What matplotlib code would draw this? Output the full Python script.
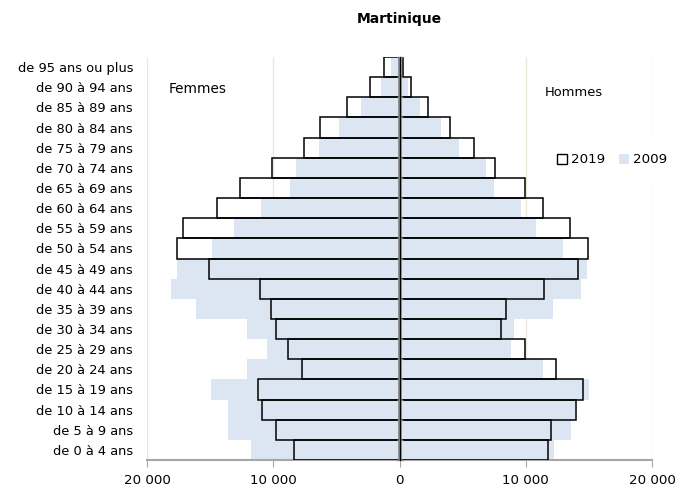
import matplotlib.pyplot as plt
import numpy as np
from matplotlib.ticker import FuncFormatter
from matplotlib.patches import Patch

ages = ["de 0 à 4 ans", "de 5 à 9 ans", "de 10 à 14 ans", "de 15 à 19 ans",
        "de 20 à 24 ans", "de 25 à 29 ans", "de 30 à 34 ans", "de 35 à 39 ans",
        "de 40 à 44 ans", "de 45 à 49 ans", "de 50 à 54 ans", "de 55 à 59 ans",
        "de 60 à 64 ans", "de 65 à 69 ans", "de 70 à 74 ans", "de 75 à 79 ans",
        "de 80 à 84 ans", "de 85 à 89 ans", "de 90 à 94 ans", "de 95 ans ou plus"]

femmes_2019 = [8350, 9800, 10930, 11220, 7760, 8820, 9800, 10170, 11040, 15080,
               17660, 17130, 14470, 12670, 10060, 7560, 6310, 4120, 2375, 1220]
femmes_2009 = [11780, 13570, 13570, 14940, 12040, 10510, 12040, 16110, 18110, 17600,
               14870, 13100, 10985, 8690, 8160, 6370, 4780, 3010, 1480, 690]
hommes_2019 = [11770, 11980, 13990, 14540, 12430, 9950, 8020, 8420, 11480, 14100,
               14940, 13490, 11370, 9950, 7550, 5910, 4010, 2240, 895, 300]
hommes_2009 = [12270, 13620, 13900, 14990, 11400, 8815, 9030, 12190, 14410, 14890,
               12990, 10850, 9610, 7490, 6835, 4720, 3270, 1630, 680, 200]

bleu = "#dce6f2"
gris = "#808080"

fig = plt.figure(figsize=(6.86, 4.88), dpi=100)
ax = fig.add_axes([147 / 686, 1 - 460 / 488, 505 / 686, 403 / 488])

y = np.arange(len(ages))

# 2009 en fond bleu clair
ax.barh(y, -np.array(femmes_2009), height=1.0, color=bleu, zorder=2)
ax.barh(y, hommes_2009, height=1.0, color=bleu, zorder=2)
# 2019 en contour noir
ax.barh(y, -np.array(femmes_2019), height=1.0, facecolor="none",
        edgecolor="black", linewidth=1.1, zorder=3)
ax.barh(y, hommes_2019, height=1.0, facecolor="none",
        edgecolor="black", linewidth=1.1, zorder=3)

ax.set_xlim(-20000, 20000)
ax.set_ylim(-0.5, len(ages) - 0.5)

ax.set_xticks([-20000, -10000, 0, 10000, 20000])
ax.xaxis.set_major_formatter(FuncFormatter(lambda v, p: f"{abs(int(v)):,}".replace(",", " ")))
ax.tick_params(axis="x", direction="out", length=5, color="#a6a6a6", labelsize=9.6, pad=5)
ax.grid(axis="x", color="#ece8dc", linewidth=1, zorder=0)

ax.set_yticks(y)
ax.set_yticklabels(ages)
ax.tick_params(axis="y", length=0, labelsize=9.4, pad=10)

for s in ["top", "right", "left"]:
    ax.spines[s].set_visible(False)
ax.spines["bottom"].set_color("#a6a6a6")
ax.spines["bottom"].set_linewidth(1.5)

# axe central avec graduations entre les classes d'âge
ax.axvline(0, color=gris, linewidth=2.6, zorder=6)
centre = ax.secondary_yaxis(0.5)
centre.set_zorder(7)
centre.set_yticks(np.arange(len(ages) + 1) - 0.5)
centre.set_yticklabels([])
centre.tick_params(direction="inout", length=5, color=gris, width=1)
centre.spines["left"].set_visible(False)

ax.text(0.042, 0.921, "Femmes", transform=ax.transAxes, fontsize=9.8, va="center")
ax.text(0.788, 0.911, "Hommes", transform=ax.transAxes, fontsize=9.4, va="center")

handles = [Patch(facecolor="white", edgecolor="black", linewidth=1, label="2019"),
           Patch(facecolor=bleu, edgecolor="none", label="2009")]
leg = ax.legend(handles=handles, loc="center", bbox_to_anchor=(0.921, 0.745),
                ncol=2, fontsize=9.6, frameon=True, fancybox=False,
                handlelength=0.8, handleheight=0.8, handletextpad=0.3,
                columnspacing=1.0, borderpad=1.3)
leg.get_frame().set_facecolor("white")
leg.get_frame().set_edgecolor("none")
leg.get_frame().set_alpha(1)

fig.text(399 / 686, 1 - 19 / 488, "Martinique", ha="center", va="center",
         fontsize=10, fontweight="bold")

fig.savefig("out.png", dpi=100)
